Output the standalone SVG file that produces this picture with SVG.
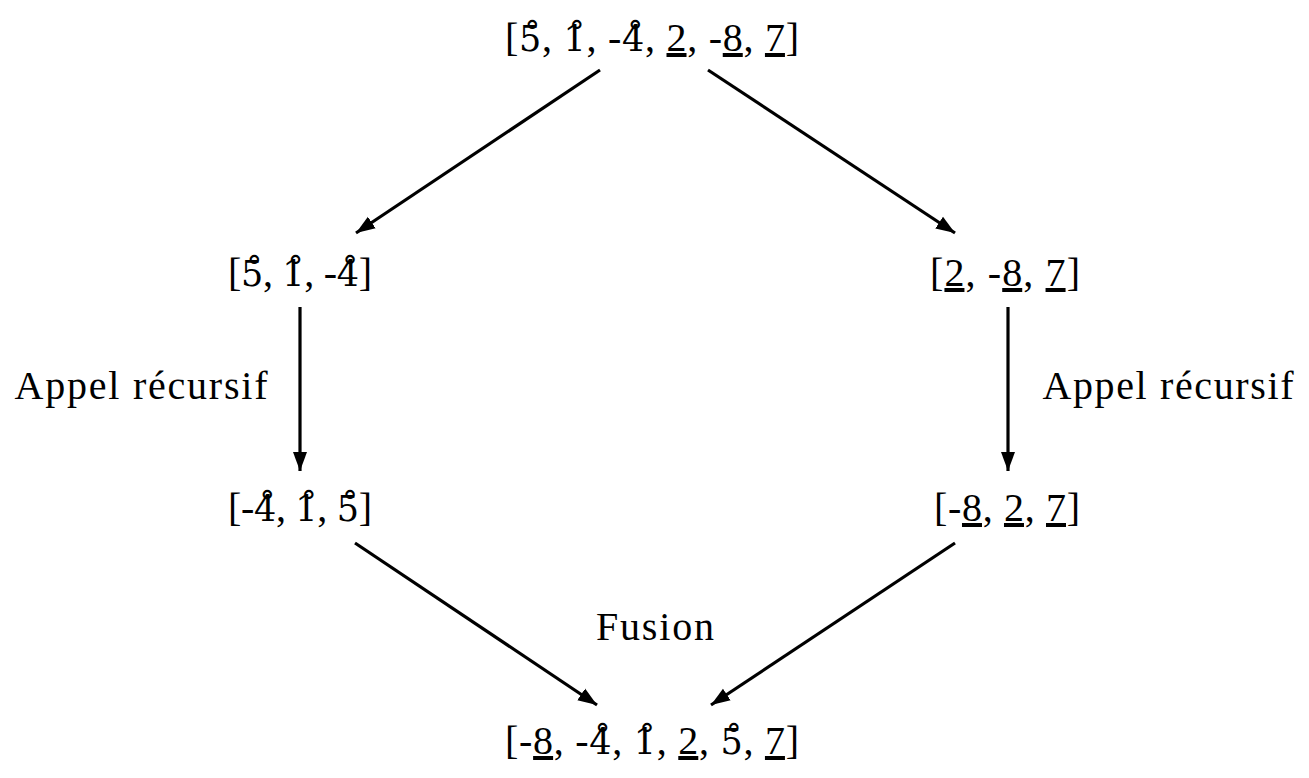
<svg xmlns="http://www.w3.org/2000/svg" width="1309" height="778" viewBox="0 0 1309 778">
<style>
text{font-family:"Liberation Serif","DejaVu Serif",serif;font-size:40px;fill:#000;text-anchor:middle}
.u{text-decoration:underline}
.r{font-family:"DejaVu Serif",serif;font-size:35px}
.c line{stroke:#000;stroke-width:3.2;fill:none}
</style>
<defs>
<marker id="ah" markerUnits="userSpaceOnUse" markerWidth="20" markerHeight="16" refX="19" refY="8" orient="auto">
<path d="M0,1 L19,8 L0,15 Z" fill="#000"/>
</marker>
</defs>
<rect width="1309" height="778" fill="#fff"/>
<g class="c">
<line x1="600" y1="70" x2="356" y2="233" marker-end="url(#ah)"/>
<line x1="708" y1="70" x2="955" y2="233" marker-end="url(#ah)"/>
<line x1="300" y1="307" x2="300" y2="471" marker-end="url(#ah)"/>
<line x1="1008" y1="307" x2="1008" y2="471" marker-end="url(#ah)"/>
<line x1="355" y1="543" x2="597" y2="705" marker-end="url(#ah)"/>
<line x1="955" y1="543" x2="711" y2="705" marker-end="url(#ah)"/>
</g>
<g id="n-top"><text x="652" y="51" textLength="294">[<tspan class="r">5̊</tspan>, <tspan class="r">1̊</tspan>, -<tspan class="r">4̊</tspan>, <tspan class="u">2</tspan>, -<tspan class="u">8</tspan>, <tspan class="u">7</tspan>]</text></g>
<g id="n-left"><text x="300" y="286" textLength="144">[<tspan class="r">5̊</tspan>, <tspan class="r">1̊</tspan>, -<tspan class="r">4̊</tspan>]</text></g>
<g id="n-right"><text x="1005" y="286" textLength="150">[<tspan class="u">2</tspan>, -<tspan class="u">8</tspan>, <tspan class="u">7</tspan>]</text></g>
<g id="n-left2"><text x="300" y="521" textLength="144">[-<tspan class="r">4̊</tspan>, <tspan class="r">1̊</tspan>, <tspan class="r">5̊</tspan>]</text></g>
<g id="n-right2"><text x="1007" y="521" textLength="146">[-<tspan class="u">8</tspan>, <tspan class="u">2</tspan>, <tspan class="u">7</tspan>]</text></g>
<g id="n-bottom"><text x="652" y="754" textLength="294">[-<tspan class="u">8</tspan>, -<tspan class="r">4̊</tspan>, <tspan class="r">1̊</tspan>, <tspan class="u">2</tspan>, <tspan class="r">5̊</tspan>, <tspan class="u">7</tspan>]</text></g>
<g id="labels">
<text x="141" y="399" textLength="253">Appel récursif</text>
<text x="1168" y="399" textLength="251">Appel récursif</text>
<text x="655" y="640" textLength="118">Fusion</text>
</g>
</svg>
